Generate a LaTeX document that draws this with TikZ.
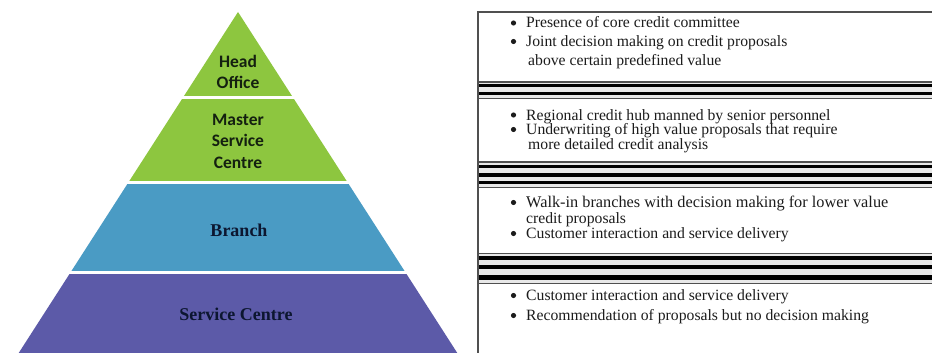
\documentclass[tikz,border=0pt]{standalone}
\usepackage{fontspec}
\setmainfont{Liberation Serif}
\newfontfamily\calibfont{Carlito}
\definecolor{pgreen}{RGB}{141,198,63}
\definecolor{pblue}{RGB}{74,155,196}
\definecolor{ppurple}{RGB}{92,90,168}
\definecolor{gtext}{RGB}{20,32,16}
\definecolor{ntext}{RGB}{12,22,48}
\definecolor{btext}{RGB}{28,28,28}
\definecolor{bline}{RGB}{80,80,80}
\tikzset{
  sanslabel/.style={anchor=base, text=gtext, inner sep=0pt,
    font=\calibfont\bfseries\fontsize{17.5}{21}\selectfont},
  seriflabel/.style={anchor=base, text=ntext, inner sep=0pt,
    font=\bfseries\fontsize{18}{21}\selectfont},
  itemline/.style={anchor=base west, text=btext, inner sep=0pt,
    text height=9.5pt, text depth=2.5pt,
    font=\fontsize{15.7}{18}\selectfont},
  biglinetext/.style={itemline, font=\fontsize{16.3}{18}\selectfont},
  bulletdot/.style={fill=btext},
  boxline/.style={draw=bline, line width=1.3pt},
  sepbar/.style={fill=black},
  sepbg/.style={fill=gray!18},
}
\begin{document}
\begin{tikzpicture}[x=1pt,y=-1pt]
\useasboundingbox[fill=white] (0,0) rectangle (932,353);
% pyramid
\begin{scope}
  \clip (238,12) -- (18.7,353) -- (457.3,353) -- cycle;
  \fill[pgreen] (0,0) rectangle (466,96);
  \fill[pgreen] (0,99) rectangle (466,181);
  \fill[pblue] (0,184) rectangle (466,271);
  \fill[ppurple] (0,274) rectangle (466,353);
\end{scope}
\node[sanslabel] (head) at (238,67) {Head};
\node[sanslabel] (office) at (238,88.5) {Office};
\node[sanslabel] (master) at (238,125) {Master};
\node[sanslabel] (service) at (238,146.5) {Service};
\node[sanslabel] (centre) at (238,168) {Centre};
\node[seriflabel] (branch) at (239,236.5) {Branch};
\node[seriflabel] (sc) at (236,320) {Service Centre};
% separators
\fill[sepbg] (478,82) rectangle (932,98.5);
\fill[sepbar] (478,84) rectangle (932,87.5);
\fill[sepbar] (478,91.7) rectangle (932,95.2);
\fill[sepbg] (478,162) rectangle (932,187.5);
\fill[sepbar] (478,164.7) rectangle (932,168.2);
\fill[sepbar] (478,173) rectangle (932,176.5);
\fill[sepbar] (478,180.7) rectangle (932,184.2);
\fill[sepbg] (478,253.3) rectangle (932,283.3);
\fill[sepbar] (478,256) rectangle (932,260);
\fill[sepbar] (478,265) rectangle (932,269.3);
\fill[sepbar] (478,275) rectangle (932,280);
% boxes
\draw[boxline] (932,12) -- (478,12) -- (478,353);
\draw[boxline] (478,82) -- (932,82);
\draw[boxline] (478,98.5) -- (932,98.5);
\draw[boxline] (478,162) -- (932,162);
\draw[boxline] (478,187.5) -- (932,187.5);
\draw[boxline] (478,253.3) -- (932,253.3);
\draw[boxline] (478,283.3) -- (932,283.3);
% bullets
\foreach \by in {28,46.5,120,134.5,207.5,238.5,300.5,320.5}
  \fill[bulletdot] (513.5,\by-5) circle (2.6);
% box texts
\node[itemline] (t1a) at (526,28) {Presence of core credit committee};
\node[itemline] (t1b) at (526,46.5) {Joint decision making on credit proposals};
\node[itemline] (t1c) at (528,65.5) {above certain predefined value};
\node[itemline] (t2a) at (526,120) {Regional credit hub manned by senior personnel};
\node[itemline] (t2b) at (526,134.5) {Underwriting of high value proposals that require};
\node[itemline] (t2c) at (528,149) {more detailed credit analysis};
\node[biglinetext] (t3a) at (526,207.5) {Walk-in branches with decision making for lower value};
\node[itemline] (t3b) at (526,223) {credit proposals};
\node[itemline] (t3c) at (526,238.5) {Customer interaction and service delivery};
\node[itemline] (t4a) at (526,300.5) {Customer interaction and service delivery};
\node[itemline] (t4b) at (526,320.5) {Recommendation of proposals but no decision making};
\end{tikzpicture}
\end{document}
